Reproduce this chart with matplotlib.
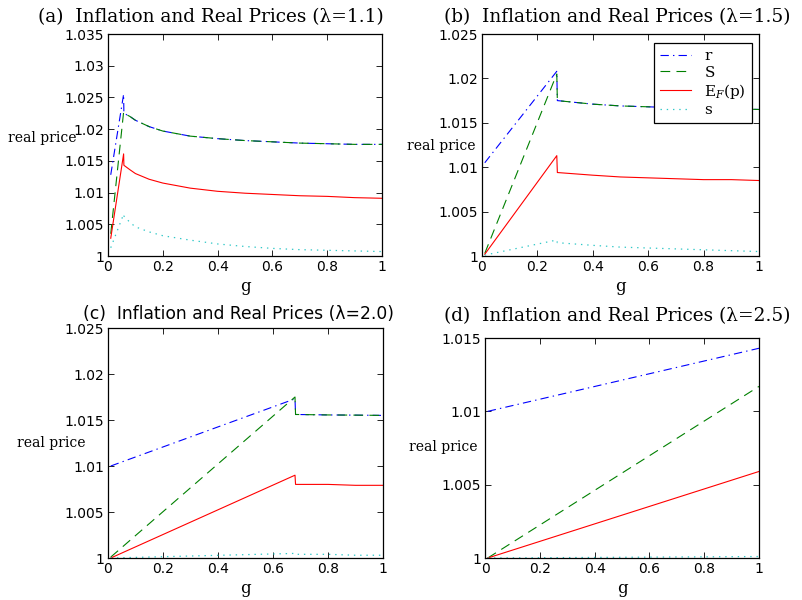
"""
  Inflation and real prices for four values of lambda
"""
import matplotlib
matplotlib.use('Agg')
import matplotlib.pyplot as plt
from matplotlib.ticker import FormatStrFormatter, MultipleLocator

plt.rcParams['mathtext.fontset'] = 'dejavuserif'
plt.rcParams['lines.scale_dashes'] = False

# (a) lambda = 1.1
g_a = [0.01, 0.057, 0.058, 0.08, 0.1, 0.15, 0.2, 0.3, 0.4, 0.5, 0.6, 0.7, 0.8, 0.9, 1.0]
r_a = [1.0128, 1.0255, 1.0225, 1.0220, 1.0214, 1.0204, 1.0197, 1.0189, 1.0185, 1.0182, 1.0180, 1.0178, 1.0177, 1.0176, 1.0176]
S_a = [1.0035, 1.0227, 1.0225, 1.0220, 1.0214, 1.0204, 1.0197, 1.0189, 1.0185, 1.0182, 1.0180, 1.0178, 1.0177, 1.0176, 1.0176]
E_a = [1.0028, 1.0161, 1.0143, 1.0136, 1.0130, 1.0121, 1.0115, 1.0107, 1.0102, 1.0099, 1.0097, 1.0095, 1.0094, 1.0092, 1.0091]
s_a = [1.0013, 1.0066, 1.0063, 1.0053, 1.0046, 1.0038, 1.0032, 1.0025, 1.0019, 1.0015, 1.0012, 1.0010, 1.0009, 1.0008, 1.0007]

# (b) lambda = 1.5
g_b = [0.01, 0.27, 0.272, 0.4, 0.5, 0.6, 0.7, 0.8, 0.9, 1.0]
r_b = [1.0105, 1.0208, 1.0175, 1.0171, 1.0169, 1.0168, 1.0167, 1.0166, 1.0166, 1.0165]
S_b = [1.0003, 1.0205, 1.0175, 1.0171, 1.0169, 1.0168, 1.0167, 1.0166, 1.0166, 1.0165]
E_b = [1.0002, 1.0113, 1.0094, 1.0091, 1.0089, 1.0088, 1.0087, 1.0086, 1.0086, 1.0085]
s_b = [1.0001, 1.0018, 1.0015, 1.0012, 1.0010, 1.0009, 1.0008, 1.0007, 1.0006, 1.0005]

# (c) lambda = 2.0
g_c = [0.01, 0.68, 0.682, 0.8, 0.9, 1.0]
r_c = [1.0100, 1.0173, 1.0156, 1.01555, 1.01553, 1.0155]
S_c = [1.0001, 1.0175, 1.0156, 1.01555, 1.01553, 1.0155]
E_c = [1.0000, 1.0090, 1.0080, 1.0080, 1.0079, 1.0079]
s_c = [1.0000, 1.0005, 1.0004, 1.0004, 1.0003, 1.0003]

# (d) lambda = 2.5
g_d = [0.01, 1.0]
r_d = [1.0100, 1.0143]
S_d = [1.0000, 1.0117]
E_d = [1.0000, 1.0059]
s_d = [1.0000, 1.0001]

titles = ['(a)  Inflation and Real Prices (\u03bb=1.1)',
          '(b)  Inflation and Real Prices (\u03bb=1.5)',
          '(c)  Inflation and Real Prices (\u03bb=2.0)',
          '(d)  Inflation and Real Prices (\u03bb=2.5)']
ytops = [1.035, 1.025, 1.025, 1.015]
names = ['r', 'S', r'E$_F$(p)', 's']

W, H = 802.0, 600.0
# axes boxes in pixels: left, top, right, bottom
boxes = [(108, 34, 382, 256), (482, 34, 759, 256),
         (108, 328, 383, 558), (485, 338, 759, 558)]
title_pos = [(211, 17), (617, 17), (239, 314), (617, 316)]
ylab_pos = [(42, 138), (441, 146), (51, 443), (443, 447)]

panels = [(g_a, r_a, S_a, E_a, s_a), (g_b, r_b, S_b, E_b, s_b),
          (g_c, r_c, S_c, E_c, s_c), (g_d, r_d, S_d, E_d, s_d)]

fig = plt.figure(figsize=(W / 100, H / 100), dpi=100)

for i, (g, r, S, E, s) in enumerate(panels):
  l, t, rr, b = boxes[i]
  ax = fig.add_axes([l / W, 1 - b / H, (rr - l) / W, (b - t) / H])
  ax.plot(g, r, color='#0000ff', lw=0.8, dashes=(6, 3, 1, 3), label=names[0])
  ax.plot(g, S, color='#008000', lw=0.8, dashes=(7, 4.5), label=names[1])
  ax.plot(g, E, '-', color='#ff0000', lw=0.8, label=names[2])
  ax.plot(g, s, color='#30c8c8', lw=0.9, dashes=(1, 3.5), label=names[3])
  ax.set_xlim(0, 1)
  ax.set_ylim(1, ytops[i])
  ax.xaxis.set_major_locator(MultipleLocator(0.2))
  ax.yaxis.set_major_locator(MultipleLocator(0.005))
  ax.xaxis.set_major_formatter(FormatStrFormatter('%g'))
  ax.yaxis.set_major_formatter(FormatStrFormatter('%g'))
  ax.tick_params(direction='in', top=True, right=True, length=4, width=0.6,
                 labelsize=10, pad=3)
  for lab in ax.get_xticklabels() + ax.get_yticklabels():
    lab.set_family('DejaVu Sans')
  for sp in ax.spines.values():
    sp.set_linewidth(0.9)
  ax.set_xlabel('g', family='DejaVu Serif', fontsize=12, labelpad=3)
  if i == 2:
    fig.text(title_pos[i][0] / W, 1 - title_pos[i][1] / H, titles[i],
             family='DejaVu Sans', fontsize=12.3, ha='center', va='center')
  else:
    fig.text(title_pos[i][0] / W, 1 - title_pos[i][1] / H, titles[i],
             family='DejaVu Serif', fontsize=13.3, ha='center', va='center')
  fig.text(ylab_pos[i][0] / W, 1 - ylab_pos[i][1] / H, 'real price',
           family='DejaVu Serif', fontsize=10, ha='center', va='center')
  if i == 1:
    leg = ax.legend(loc='upper right', bbox_to_anchor=(0.975, 0.959),
                    borderaxespad=0,
                    prop={'family': 'DejaVu Serif', 'size': 11},
                    fancybox=False, framealpha=1, edgecolor='black',
                    borderpad=0.4, labelspacing=0.15, handlelength=2.0,
                    handletextpad=0.9)
    leg.get_frame().set_linewidth(0.9)

plt.savefig('out.png', dpi=100)
